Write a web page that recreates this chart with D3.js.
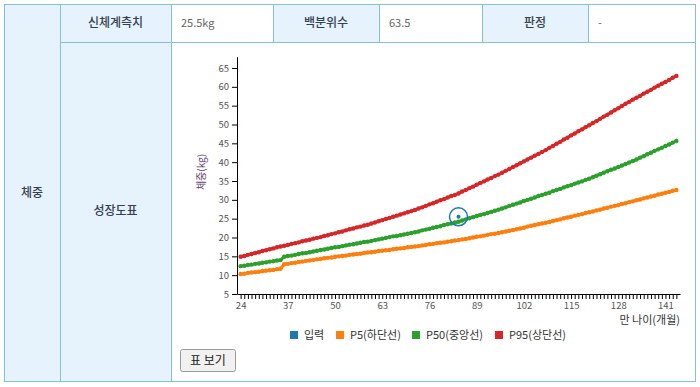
<!DOCTYPE html>
<html>
<head>
<meta charset="utf-8">
<style>
body { margin:0; background:#fff; }
svg text { font-family: "Noto Sans CJK KR", "Noto Sans", sans-serif; }
</style>
</head>
<body>
<div id="chart"></div>
<script src="https://d3js.org/d3.v7.min.js"></script>
<script>

// ages in months, one point per month
var months = d3.range(24, 145);

var p5 = [10.3,10.4,10.6,10.7,10.8,10.9,11.1,11.2,11.3,11.4,11.6,11.7,
  12.9,13.0,13.2,13.3,13.5,13.6,13.8,13.9,14.0,14.2,14.3,14.5,
  14.6,14.7,14.9,15.0,15.1,15.2,15.4,15.5,15.6,15.7,15.9,16.0,
  16.1,16.2,16.4,16.5,16.6,16.7,16.9,17.0,17.1,17.2,17.4,17.5,
  17.6,17.7,17.9,18.0,18.2,18.3,18.5,18.6,18.7,18.9,19.0,19.2,
  19.3,19.5,19.6,19.8,20.0,20.2,20.3,20.5,20.7,20.9,21.0,21.2,
  21.4,21.6,21.8,22.0,22.2,22.4,22.6,22.9,23.1,23.3,23.5,23.7,
  23.9,24.1,24.4,24.6,24.8,25.1,25.3,25.5,25.8,26.0,26.2,26.5,
  26.7,26.9,27.2,27.4,27.7,27.9,28.2,28.4,28.6,28.9,29.1,29.4,
  29.6,29.9,30.1,30.4,30.6,30.9,31.1,31.4,31.6,31.9,32.1,32.4,32.6];

var p50 = [12.4,12.5,12.7,12.8,13.0,13.1,13.3,13.4,13.6,13.7,13.9,14.0,
  14.9,15.1,15.2,15.4,15.6,15.8,15.9,16.1,16.3,16.5,16.7,16.8,
  17.0,17.2,17.4,17.5,17.7,17.9,18.1,18.2,18.4,18.6,18.8,18.9,
  19.1,19.3,19.5,19.7,19.9,20.1,20.3,20.4,20.6,20.8,21.0,21.2,
  21.4,21.6,21.9,22.1,22.3,22.6,22.8,23.0,23.3,23.5,23.7,24.0,
  24.2,24.5,24.8,25.1,25.4,25.7,26.0,26.2,26.5,26.8,27.1,27.4,
  27.7,28.0,28.4,28.7,29.0,29.3,29.7,30.0,30.3,30.6,31.0,31.3,
  31.6,31.9,32.3,32.6,32.9,33.3,33.6,33.9,34.3,34.6,34.9,35.3,
  35.6,36.0,36.4,36.8,37.2,37.6,38.0,38.3,38.7,39.1,39.5,39.9,
  40.3,40.7,41.2,41.6,42.1,42.5,43.0,43.4,43.8,44.3,44.7,45.2,45.6];

var p95 = [14.9,15.1,15.4,15.6,15.9,16.1,16.4,16.6,16.9,17.1,17.4,17.6,
  17.8,18.0,18.3,18.5,18.7,19.0,19.2,19.4,19.7,19.9,20.1,20.4,
  20.6,20.9,21.1,21.4,21.6,21.9,22.2,22.4,22.7,22.9,23.2,23.4,
  23.7,24.0,24.3,24.6,24.9,25.2,25.5,25.8,26.1,26.4,26.7,27.0,
  27.3,27.7,28.0,28.4,28.8,29.1,29.5,29.9,30.2,30.6,31.0,31.3,
  31.7,32.2,32.6,33.1,33.5,34.0,34.5,34.9,35.4,35.8,36.3,36.7,
  37.2,37.7,38.2,38.7,39.2,39.7,40.2,40.7,41.2,41.7,42.2,42.7,
  43.2,43.8,44.3,44.9,45.4,46.0,46.5,47.1,47.6,48.2,48.7,49.3,
  49.8,50.4,50.9,51.5,52.1,52.6,53.2,53.8,54.3,54.9,55.5,56.0,
  56.6,57.1,57.6,58.2,58.7,59.2,59.8,60.3,60.8,61.3,61.8,62.4,62.9];

// measured input: age (months), weight (kg)
var inputAge = 84;
var inputWeight = 25.5;

var xTickLabels = [24, 37, 50, 63, 76, 89, 102, 115, 128, 141];
var yTickLabels = [5, 10, 15, 20, 25, 30, 35, 40, 45, 50, 55, 60, 65];

var legendNames = ["입력", "P5(하단선)", "P50(중앙선)", "P95(상단선)"];
var legendColors = ["#1f77b4", "#ff7f0e", "#2ca02c", "#d62728"];

// table texts
var headLabels = ["신체계측치", "백분위수", "판정"];
var headValues = ["25.5kg", "63.5", "-"];

var W = 700, H = 387;
var border = "#86c2cd";
var headBg = "#e6f2fc";
var headColor = "#34404e";

var svg = d3.select("#chart").append("svg")
  .attr("width", W)
  .attr("height", H);

// ---- table frame ----
var tL = 4, tR = 695, tT = 4, tB = 381, rowB = 42;
var colX = [60, 171, 273, 379, 482, 588, 695];

svg.append("rect").attr("x", tL).attr("y", tT).attr("width", tR - tL).attr("height", tB - tT)
  .style("fill", "#fff");
// left column (체중)
svg.append("rect").attr("x", tL).attr("y", tT).attr("width", colX[0] - tL).attr("height", tB - tT)
  .style("fill", headBg);
// header cells in the first row
for (var i = 0; i < 3; i++) {
  svg.append("rect").attr("x", colX[i * 2]).attr("y", tT)
    .attr("width", colX[i * 2 + 1] - colX[i * 2]).attr("height", rowB - tT)
    .style("fill", headBg);
}
// 성장도표 cell
svg.append("rect").attr("x", colX[0]).attr("y", rowB).attr("width", colX[1] - colX[0]).attr("height", tB - rowB)
  .style("fill", headBg);

// lines
function hline(x1, x2, yy) {
  svg.append("line").attr("x1", x1).attr("x2", x2).attr("y1", yy + 0.5).attr("y2", yy + 0.5)
    .style("stroke", border).style("stroke-width", 1);
}
function vline(xx, y1, y2) {
  svg.append("line").attr("x1", xx + 0.5).attr("x2", xx + 0.5).attr("y1", y1).attr("y2", y2)
    .style("stroke", border).style("stroke-width", 1);
}
hline(tL, tR + 1, tT);
hline(tL, tR + 1, tB);
hline(colX[0], tR + 1, rowB);
vline(tL, tT, tB + 1);
vline(tR, tT, tB + 1);
vline(colX[0], tT, tB + 1);
vline(colX[1], tT, tB + 1);
for (var i = 2; i < 6; i++) vline(colX[i], tT, rowB);

// table texts
svg.append("text").text("체중")
  .attr("x", (tL + colX[0]) / 2).attr("y", 197)
  .style("text-anchor", "middle").style("font-size", "12px").style("font-weight", 500)
  .style("fill", headColor);
svg.append("text").text("성장도표")
  .attr("x", (colX[0] + colX[1]) / 2).attr("y", 215)
  .style("text-anchor", "middle").style("font-size", "12px").style("font-weight", 500)
  .style("fill", headColor);
for (var i = 0; i < 3; i++) {
  svg.append("text").text(headLabels[i])
    .attr("x", (colX[i * 2] + colX[i * 2 + 1]) / 2).attr("y", 27)
    .style("text-anchor", "middle").style("font-size", "12px").style("font-weight", 500)
    .style("fill", headColor);
  svg.append("text").text(headValues[i])
    .attr("x", colX[i * 2 + 1] + 10).attr("y", 27)
    .style("font-size", "11px")
    .style("fill", "#666");
}

// ---- chart ----
var x = d3.scaleLinear().domain([23, 145]).range([237, 680]);
var y = d3.scaleLinear().domain([5, 68]).range([294, 56.7]);

var gx = svg.append("g")
  .attr("transform", "translate(0," + y(5) + ")")
  .call(d3.axisBottom(x)
    .tickValues(months)
    .tickFormat(function (d) { return xTickLabels.indexOf(d) >= 0 ? d : ""; })
    .tickSize(5).tickSizeOuter(0));
gx.selectAll("text").style("font-size", "9.5px").style("fill", "#555");

var gy = svg.append("g")
  .attr("transform", "translate(" + x(23) + ",0)")
  .call(d3.axisLeft(y).tickValues(yTickLabels).tickSize(5).tickSizeOuter(0));
gy.selectAll("text").style("font-size", "9.5px").style("fill", "#555");

svg.selectAll(".domain").style("stroke", "#000");
svg.selectAll(".tick line").style("stroke", "#000");

// axis titles
svg.append("text").text("체중(kg)")
  .attr("transform", "translate(205,172) rotate(-90)")
  .style("text-anchor", "middle").style("font-size", "10px").style("fill", "#5b3f73");
svg.append("text").text("만 나이(개월)")
  .attr("x", 680).attr("y", 324)
  .style("text-anchor", "end").style("font-size", "11px").style("fill", "#333");

// percentile curves
var curves = [p5, p50, p95];
var line = d3.line()
  .x(function (d, i) { return x(months[i]); })
  .y(function (d) { return y(d); });

curves.forEach(function (vals, k) {
  var col = legendColors[k + 1];
  svg.append("path")
    .attr("d", line(vals))
    .style("fill", "none")
    .style("stroke", col)
    .style("stroke-width", 3);
  svg.append("g").selectAll("circle")
    .data(vals)
    .enter().append("circle")
    .attr("cx", function (d, i) { return x(months[i]); })
    .attr("cy", function (d) { return y(d); })
    .attr("r", 2.2)
    .style("fill", col);
});

// input point
svg.append("circle")
  .attr("cx", x(inputAge)).attr("cy", y(inputWeight)).attr("r", 9)
  .style("fill", "none").style("stroke", legendColors[0]).style("stroke-width", 1.5);
svg.append("circle")
  .attr("cx", x(inputAge)).attr("cy", y(inputWeight)).attr("r", 2)
  .style("fill", legendColors[0]);

// legend
var legendX = [290, 336, 412, 495];
legendNames.forEach(function (name, k) {
  svg.append("rect")
    .attr("x", legendX[k]).attr("y", 331).attr("width", 8).attr("height", 8)
    .style("fill", legendColors[k]);
  svg.append("text").text(name)
    .attr("x", legendX[k] + 14).attr("y", 339)
    .style("font-size", "11px").style("fill", "#333");
});

// "표 보기" button
svg.append("rect")
  .attr("x", 180.5).attr("y", 349.5).attr("width", 55).attr("height", 22).attr("rx", 2)
  .style("fill", "#f1f1f1").style("stroke", "#9a9a9a");
svg.append("text").text("표 보기")
  .attr("x", 208).attr("y", 365)
  .style("text-anchor", "middle").style("font-size", "12px").style("fill", "#222");

</script>
</body>
</html>
